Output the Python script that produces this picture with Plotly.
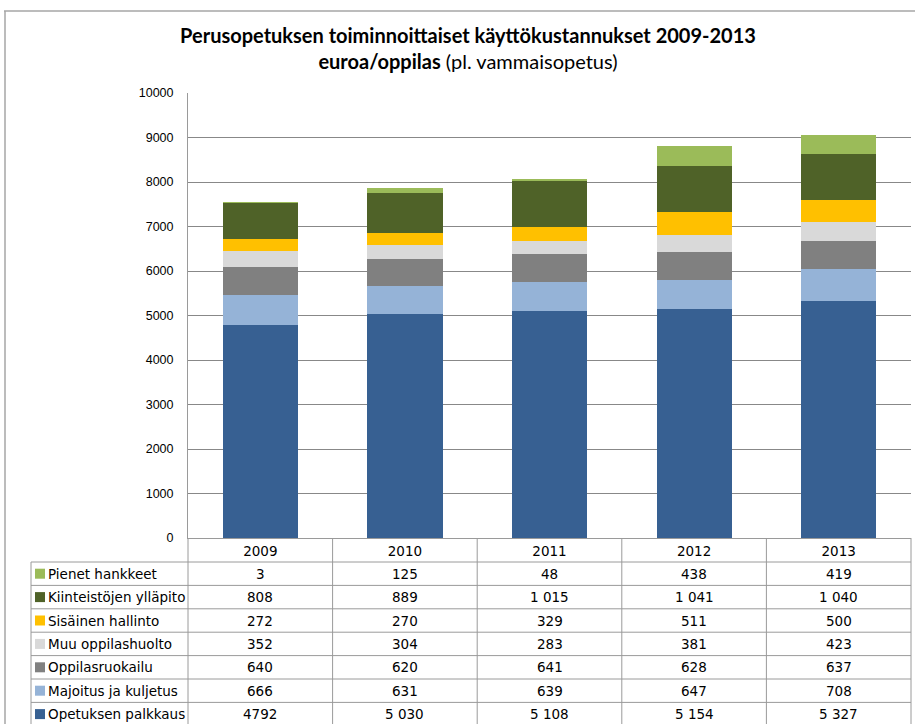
import plotly.graph_objects as go

# ---- data ----
years = ["2009", "2010", "2011", "2012", "2013"]
opetuksen_palkkaus = [4792, 5030, 5108, 5154, 5327]
majoitus_ja_kuljetus = [666, 631, 639, 647, 708]
oppilasruokailu = [640, 620, 641, 628, 637]
muu_oppilashuolto = [352, 304, 283, 381, 423]
sisainen_hallinto = [272, 270, 329, 511, 500]
kiinteistojen_yllapito = [808, 889, 1015, 1041, 1040]
pienet_hankkeet = [3, 125, 48, 438, 419]
y_ticks = [0, 1000, 2000, 3000, 4000, 5000, 6000, 7000, 8000, 9000, 10000]

# stacking order (bottom -> top)
series = [
    ("Opetuksen palkkaus", opetuksen_palkkaus, "#376092"),
    ("Majoitus ja kuljetus", majoitus_ja_kuljetus, "#95B3D7"),
    ("Oppilasruokailu", oppilasruokailu, "#808080"),
    ("Muu oppilashuolto", muu_oppilashuolto, "#D9D9D9"),
    ("Sisäinen hallinto", sisainen_hallinto, "#FFC000"),
    ("Kiinteistöjen ylläpito", kiinteistojen_yllapito, "#4F6228"),
    ("Pienet hankkeet", pienet_hankkeet, "#9BBB59"),
]
# cells shown in the source table without a thousands separator
plain_cells = {("Opetuksen palkkaus", "2009")}

W, H = 915, 724
PL, PR, PT, PB = 188, 911, 93, 538
def xp(px): return (px - PL) / (PR - PL)
def yp(py): return (PB - py) / (PB - PT)

def fmt(v, name, yr):
    if (name, yr) in plain_cells:
        return str(v)
    return f"{v:,}".replace(",", " ")

fig = go.Figure()
for name, vals, col in series:
    fig.add_trace(go.Bar(x=years, y=vals, name=name, marker=dict(color=col, line=dict(width=0)),
                         showlegend=False, hoverinfo="skip"))

line_col = "#9A9A9A"
shapes = []
annotations = []

# table geometry
col_edges = [188, 332.6, 477.2, 621.8, 766.4, 911]
row_top = 562
row_h = 23.4
table_rows = list(reversed(series))
n_rows = len(table_rows)
bottom = row_top + row_h * n_rows + 5
for xe in col_edges:
    shapes.append(dict(type="line", xref="paper", yref="paper", x0=xp(xe), x1=xp(xe),
                       y0=yp(538), y1=yp(bottom), line=dict(color=line_col, width=1)))
shapes.append(dict(type="line", xref="paper", yref="paper", x0=xp(31), x1=xp(31),
                   y0=yp(row_top), y1=yp(bottom), line=dict(color=line_col, width=1)))
for i in range(n_rows + 1):
    yy = row_top + i * row_h
    shapes.append(dict(type="line", xref="paper", yref="paper", x0=xp(31), x1=xp(911),
                       y0=yp(yy), y1=yp(yy), line=dict(color=line_col, width=1)))
# outer frame
shapes.append(dict(type="line", xref="paper", yref="paper", x0=xp(4), x1=xp(916),
                   y0=yp(11), y1=yp(11), line=dict(color="#A6A6A6", width=1.5)))
shapes.append(dict(type="line", xref="paper", yref="paper", x0=xp(5), x1=xp(5),
                   y0=yp(11), y1=yp(730), line=dict(color="#A6A6A6", width=1.5)))

tfont = dict(family="DejaVu Sans", size=13.5, color="#000000")
for i, (name, vals, col) in enumerate(table_rows):
    cy = row_top + i * row_h + row_h / 2
    shapes.append(dict(type="rect", xref="paper", yref="paper", x0=xp(35), x1=xp(45),
                       y0=yp(cy + 5), y1=yp(cy - 5), fillcolor=col, line=dict(width=0)))
    annotations.append(dict(xref="paper", yref="paper", x=xp(46), y=yp(cy), text=name,
                            showarrow=False, xanchor="left", yanchor="middle", font=tfont))
    for k, (yr, v) in enumerate(zip(years, vals)):
        annotations.append(dict(xref="x", yref="paper", x=k, y=yp(cy), text=fmt(v, name, yr),
                                showarrow=False, xanchor="center", yanchor="middle", font=tfont))

fig.update_layout(
    width=W, height=H,
    margin=dict(l=PL, r=W - PR, t=PT, b=H - PB, pad=0),
    paper_bgcolor="white", plot_bgcolor="white",
    barmode="stack", bargap=0.48,
    title=dict(text="<b>Perusopetuksen toiminnoittaiset käyttökustannukset 2009-2013</b><br>"
                    "<b>euroa/oppilas</b> (pl. vammaisopetus)",
               x=468 / W, xanchor="center", y=1 - 43 / H, yanchor="middle",
               font=dict(family="Lato", size=20, color="#000000")),
    xaxis=dict(type="category", categoryorder="array", categoryarray=years,
               range=[-0.5, len(years) - 0.5], showline=True, linecolor=line_col, linewidth=1,
               showgrid=False, ticks="", tickfont=tfont, ticklabelstandoff=1),
    yaxis=dict(range=[0, 10000], tickvals=y_ticks, ticktext=[str(t) for t in y_ticks],
               showgrid=True, gridcolor="#888888", gridwidth=1,
               showline=True, linecolor=line_col, linewidth=1, zeroline=False, ticks="",
               tickfont=dict(family="Liberation Sans", size=12.5, color="#000000"),
               ticklabelstandoff=11),
    shapes=shapes, annotations=annotations,
)
fig.write_html("out.html", config={"displayModeBar": False},
               post_script="document.body.style.margin='0px';document.body.style.overflow='hidden';")
